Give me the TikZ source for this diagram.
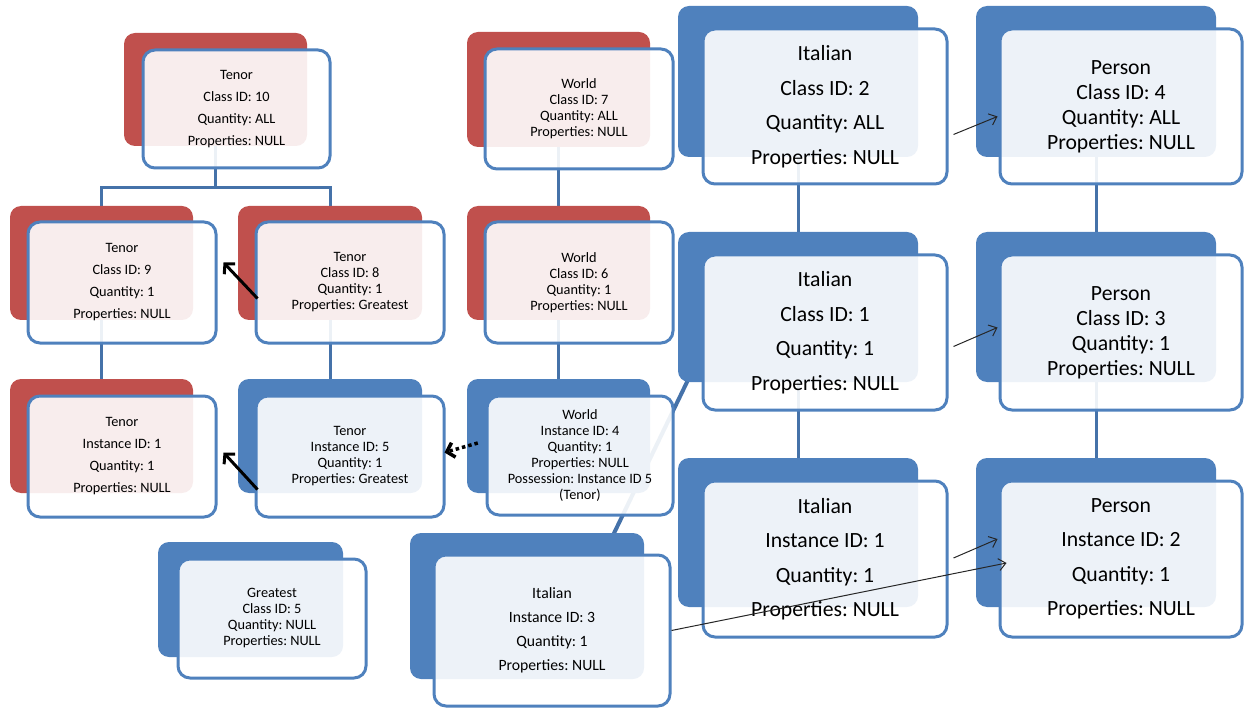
\documentclass[tikz,border=0pt]{standalone}
\usepackage{fontspec}
\setmainfont{Carlito}
\frenchspacing
\usetikzlibrary{arrows.meta,calc,fit}
\pgfdeclarelayer{bg}
\pgfsetlayers{bg,main}
\definecolor{ofblue}{HTML}{4F81BD}
\definecolor{ofred}{HTML}{C0504D}
\definecolor{linkblue}{HTML}{4572A9}

\tikzset{
  backbox/.style={rounded corners=11pt, inner sep=0pt, draw=none},
  frontbox/.style={rounded corners=12pt, inner sep=0pt, draw=ofblue, line width=3pt,
                   fill=white, fill opacity=0.9},
  lbl/.style={align=center, text=black, inner sep=0pt},
  tA/.style={lbl, font=\fontsize{14.3}{22}\selectfont},
  tB/.style={lbl, font=\fontsize{14.3}{16}\selectfont},
  tC/.style={lbl, font=\fontsize{15.7}{24}\selectfont},
  tD/.style={lbl, font=\fontsize{21.7}{34.5}\selectfont},
  tE/.style={lbl, font=\fontsize{21.7}{25}\selectfont},
  conn/.style={draw=linkblue, line width=3pt},
  boldArrow/.style={-{Straight Barb[length=7pt,width=15pt]}, line width=3pt, black},
  fineArrow/.style={-{Straight Barb[length=7pt,width=12pt]}, line width=1pt, black!85},
}

% one object: filled back card plus outlined front card with its label
% #1 name, #2 back colour, #3/#4 back corners, #5/#6 front corners, #7 text style, #8 text
\newcommand\objbox[8]{%
  \node[backbox, fill=#2, fit={(#3) (#4)}] (#1b) {};
  \node[frontbox, fit={(#5) (#6)}] (#1f) {};
  \node[#7] (#1t) at (#1f.center) {#8};
}

\begin{document}
\begin{tikzpicture}[x=1pt,y=-1pt]
\useasboundingbox (0,0) rectangle (1244,708);

% Tenor hierarchy
\objbox{t10}{ofred}{124,33}{307,146}{143,50}{330,168}{tA}{Tenor\\Class ID: 10\\Quantity: ALL\\Properties: NULL}
\objbox{t9}{ofred}{10,206}{193,320}{28,222}{216,343}{tA}{Tenor\\Class ID: 9\\Quantity: 1\\Properties: NULL}
\objbox{t8}{ofred}{238,206}{422,320}{256,222}{444,343}{tB}{Tenor\\Class ID: 8\\Quantity: 1\\Properties: Greatest}
\objbox{t1}{ofred}{10,379}{193,493}{28,396}{216,517}{tA}{Tenor\\Instance ID: 1\\Quantity: 1\\Properties: NULL}
\objbox{t5}{ofblue}{238,379}{422,493}{256,396}{444,517}{tB}{Tenor\\Instance ID: 5\\Quantity: 1\\Properties: Greatest}

% World hierarchy
\objbox{w7}{ofred}{467,32}{650,147}{485,49}{673,169}{tB}{World\\Class ID: 7\\Quantity: ALL\\Properties: NULL}
\objbox{w6}{ofred}{467,206}{650,320}{485,222}{673,343}{tB}{World\\Class ID: 6\\Quantity: 1\\Properties: NULL}
\objbox{w4}{ofblue}{467,379}{650,493}{487,396}{673,515}{tB}{World\\Instance ID: 4\\Quantity: 1\\Properties: NULL\\Possession: Instance ID 5\\(Tenor)}

% loose objects
\objbox{g5}{ofblue}{158,542}{343,657}{178,559}{366,678}{tB}{Greatest\\Class ID: 5\\Quantity: NULL\\Properties: NULL}
\objbox{i3}{ofblue}{410,533}{644,679}{434,555}{670,706}{tC}{Italian\\Instance ID: 3\\Quantity: 1\\Properties: NULL}

% Italian and Person hierarchies
\objbox{i2}{ofblue}{678,6}{918,157}{703,29}{947,184}{tD}{Italian\\Class ID: 2\\Quantity: ALL\\Properties: NULL}
\objbox{p4}{ofblue}{976,6}{1216,157}{1000,29}{1242,184}{tE}{Person\\Class ID: 4\\Quantity: ALL\\Properties: NULL}
\objbox{i1}{ofblue}{678,232}{918,382}{703,255}{947,410}{tD}{Italian\\Class ID: 1\\Quantity: 1\\Properties: NULL}
\objbox{p3}{ofblue}{976,232}{1216,382}{1000,255}{1242,410}{tE}{Person\\Class ID: 3\\Quantity: 1\\Properties: NULL}
\objbox{ii1}{ofblue}{678,458}{918,607}{703,481}{947,637}{tD}{Italian\\Instance ID: 1\\Quantity: 1\\Properties: NULL}
\objbox{p2}{ofblue}{976,458}{1216,607}{1000,481}{1242,637}{tD}{Person\\Instance ID: 2\\Quantity: 1\\Properties: NULL}

% tree connectors, behind the cards
\begin{pgfonlayer}{bg}
  \coordinate (split) at ($(t10b.south)+(0,41)$);
  \draw[conn] (t10b.south) -- (split) -| (t9b.north);
  \draw[conn] (split) -| (t8b.north);
  \draw[conn] (t9b.south) -- (t1b.north);
  \draw[conn] (t8b.south) -- (t5b.north);
  \draw[conn] (w7b.south) -- (w6b.north);
  \draw[conn] (w6b.south) -- (w4b.north);
  \draw[conn] (i2b.south) -- (i1b.north);
  \draw[conn] (i1b.south) -- (ii1b.north);
  \draw[conn] (p4b.south) -- (p3b.north);
  \draw[conn] (p3b.south) -- (p2b.north);
  \draw[conn, line width=4pt] ($(i1b.south west)+(12,-6)$) -- ($(i3b.north)+(79,17)$);
\end{pgfonlayer}

% relations
\draw[boldArrow] ($(t8f.west)+(3,16)$) -- ($(t9f.east)+(6,-20)$);
\draw[boldArrow] ($(t5f.west)+(3,33)$) -- ($(t1f.east)+(6,-4)$);
\draw[boldArrow, dash pattern=on 3.5pt off 3pt, line width=3.5pt]
  ($(w4b.west)+(11,7)$) -- ($(t5f.east)+(-1,-4)$);

\draw[fineArrow] ($(i2f.east)+(5,28)$) -- ($(p4f.west)+(-1,10)$);
\draw[fineArrow] ($(i1f.east)+(5,14)$) -- ($(p3f.west)+(-1,-5)$);
\draw[fineArrow] ($(ii1f.east)+(5,-1)$) -- ($(p2f.west)+(-1,-20)$);
\draw[fineArrow] (i3f.east) -- ($(p2f.west)+(8,4)$);
\end{tikzpicture}
\end{document}
